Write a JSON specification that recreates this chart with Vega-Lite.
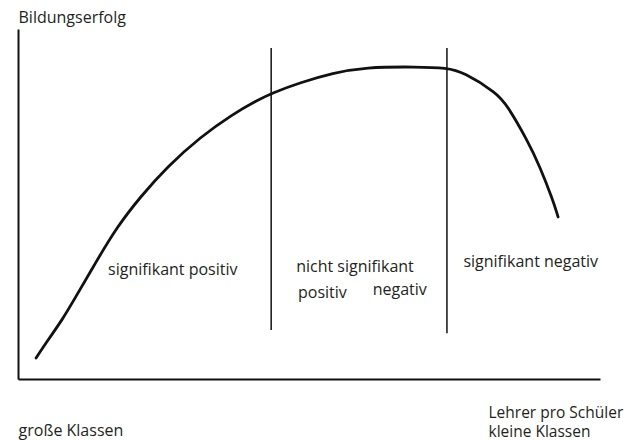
{
  "$schema": "https://vega.github.io/schema/vega-lite/v6.json",
  "width": 582,
  "height": 350,
  "autosize": "none",
  "padding": {"left": 18, "top": 29, "right": 33, "bottom": 61},
  "background": "white",
  "config": {
    "view": {"stroke": null},
    "font": "Open Sans",
    "text": {"font": "Open Sans", "fontSize": 16, "color": "#231f20"}
  },
  "datasets": {
    "curve": [
      {"x": 3.1, "y": 6.0},
      {"x": 5.3, "y": 11.5},
      {"x": 7.6, "y": 16.9},
      {"x": 9.8, "y": 23.1},
      {"x": 13.6, "y": 34.0},
      {"x": 17.0, "y": 43.4},
      {"x": 21.0, "y": 52.0},
      {"x": 25.6, "y": 60.6},
      {"x": 31.3, "y": 69.1},
      {"x": 36.9, "y": 75.7},
      {"x": 41.2, "y": 79.7},
      {"x": 43.5, "y": 81.6},
      {"x": 48.5, "y": 84.7},
      {"x": 54.1, "y": 87.4},
      {"x": 59.6, "y": 89.1},
      {"x": 68.6, "y": 89.2},
      {"x": 73.7, "y": 88.9},
      {"x": 76.5, "y": 87.7},
      {"x": 82.3, "y": 81.7},
      {"x": 84.0, "y": 78.3},
      {"x": 87.5, "y": 68.3},
      {"x": 89.7, "y": 60.6},
      {"x": 91.9, "y": 51.1},
      {"x": 92.6, "y": 47.4},
      {"x": 92.8, "y": 46.3}
    ],
    "dividers": [
      {"x": 43.5, "top": 94.6, "bottom": 14.0},
      {"x": 73.7, "top": 94.6, "bottom": 13.1}
    ],
    "regions": [
      {"label": "signifikant positiv", "x": 26.6, "y": 31.1},
      {"label": "nicht signifikant", "x": 57.9, "y": 32.0},
      {"label": "positiv", "x": 52.3, "y": 24.6},
      {"label": "negativ", "x": 65.6, "y": 25.4},
      {"label": "signifikant negativ", "x": 88.1, "y": 33.4}
    ],
    "ends": [
      {"label": "große Klassen", "x": 0.1, "y": -16.3}
    ]
  },
  "layer": [
    {
      "data": {"name": "curve"},
      "mark": {"type": "line", "color": "#111111", "strokeWidth": 2.8, "interpolate": "basis", "strokeCap": "round"},
      "encoding": {
        "x": {
          "field": "x", "type": "quantitative",
          "scale": {"domain": [0, 100], "nice": false, "zero": false},
          "axis": {
            "domainColor": "#111111", "domainWidth": 2, "ticks": false, "labels": false, "grid": false,
            "title": ["Lehrer pro Schüler", "kleine Klassen"],
            "titleFont": "Open Sans", "titleFontSize": 15.5, "titleFontWeight": "normal", "titleColor": "#231f20",
            "titleAlign": "left", "titleAnchor": "start", "titleBaseline": "alphabetic", "titleLineHeight": 19,
            "titleX": 470, "titleY": 38
          }
        },
        "y": {
          "field": "y", "type": "quantitative",
          "scale": {"domain": [0, 100], "nice": false, "zero": false},
          "axis": {
            "domainColor": "#111111", "domainWidth": 2, "ticks": false, "labels": false, "grid": false,
            "title": "Bildungserfolg",
            "titleFont": "Open Sans", "titleFontSize": 16, "titleFontWeight": "normal", "titleColor": "#231f20",
            "titleAngle": 0, "titleAlign": "left", "titleBaseline": "alphabetic",
            "titleX": 0, "titleY": -6.3
          }
        }
      }
    },
    {
      "data": {"name": "dividers"},
      "mark": {"type": "rule", "color": "#111111", "strokeWidth": 1.5},
      "encoding": {
        "x": {"field": "x", "type": "quantitative"},
        "y": {"field": "top", "type": "quantitative"},
        "y2": {"field": "bottom"}
      }
    },
    {
      "data": {"name": "regions"},
      "mark": {"type": "text", "align": "center", "baseline": "middle"},
      "encoding": {
        "x": {"field": "x", "type": "quantitative"},
        "y": {"field": "y", "type": "quantitative"},
        "text": {"field": "label"}
      }
    },
    {
      "data": {"name": "ends"},
      "mark": {"type": "text", "align": "left", "baseline": "alphabetic"},
      "encoding": {
        "x": {"field": "x", "type": "quantitative"},
        "y": {"field": "y", "type": "quantitative"},
        "text": {"field": "label"}
      }
    }
  ]
}
